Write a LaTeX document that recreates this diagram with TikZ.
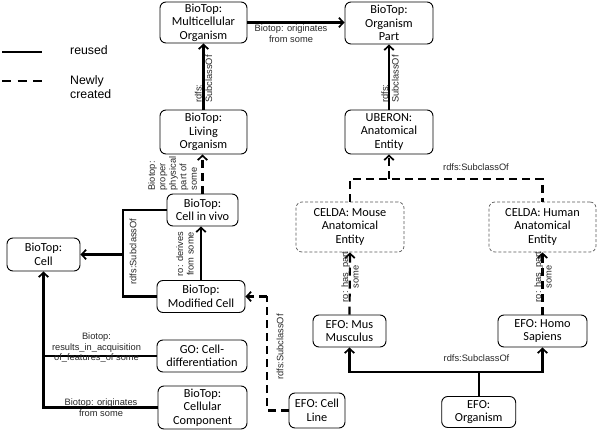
\documentclass[tikz,border=0pt]{standalone}
\usepackage{fontspec}
\setmainfont{Carlito}
\newfontfamily\lblfont{Liberation Sans}
\usetikzlibrary{arrows.meta}
\tikzset{
  box/.style={draw, rounded corners=6pt, line width=0.9pt, align=center, inner sep=0pt,
    font=\fontsize{12.3}{13.5}\selectfont},
  dbox/.style={box, draw=black!65, line width=0.7pt, dash pattern=on 3pt off 2pt},
  rel/.style={line width=2.2pt, -{Straight Barb[length=4.5pt,width=9.5pt,line width=1.7pt]}},
  relnt/.style={line width=2.2pt},
  newrel/.style={rel, dash pattern=on 8pt off 5pt},
  newrelnt/.style={line width=2.2pt, dash pattern=on 8pt off 5pt},
  lbl/.style={font=\lblfont\fontsize{9.3}{10.5}\selectfont, text=black!85, inner sep=0pt, align=center},
  leg/.style={font=\lblfont\fontsize{12.3}{13.5}\selectfont, inner sep=0pt, align=left, anchor=west}
}
\begin{document}
\begin{tikzpicture}[x=1pt,y=-1pt]
\useasboundingbox (0,0) rectangle (600,435);
% nodes
\node[box, minimum width=87pt, minimum height=41pt] (mo) at (203.5,22.5) {BioTop:\\Multicellular\\Organism};
\node[box, minimum width=88pt, minimum height=42pt] (op) at (389,23) {BioTop:\\Organism\\Part};
\node[box, minimum width=87pt, minimum height=44pt] (lo) at (203.5,132) {BioTop:\\Living\\Organism};
\node[box, minimum width=88pt, minimum height=44pt] (ub) at (389,132) {UBERON:\\Anatomical\\Entity};
\node[box, minimum width=71pt, minimum height=32pt] (civ) at (202.5,210) {BioTop:\\Cell in vivo};
\node[box, minimum width=73pt, minimum height=33pt] (cell) at (43.5,254.5) {BioTop:\\Cell};
\node[box, minimum width=88pt, minimum height=32pt] (mc) at (201,296.5) {BioTop:\\Modified Cell};
\node[box, minimum width=90pt, minimum height=32pt] (go) at (202,356) {GO: Cell-\\differentiation};
\node[box, minimum width=89pt, minimum height=43pt] (cc) at (202.5,407.5) {BioTop:\\Cellular\\Component};
\node[box, minimum width=56pt, minimum height=35pt] (cl) at (317,410.5) {EFO: Cell\\Line};
\node[box, minimum width=74pt, minimum height=31pt] (org) at (478.7,412) {EFO:\\Organism};
\node[box, minimum width=73pt, minimum height=32pt] (mus) at (349.5,331) {EFO: Mus\\Musculus};
\node[box, minimum width=89pt, minimum height=32pt] (homo) at (542.5,331) {EFO: Homo\\Sapiens};
\node[dbox, minimum width=108pt, minimum height=50pt] (celm) at (350,227) {CELDA: Mouse\\Anatomical\\Entity};
\node[dbox, minimum width=107pt, minimum height=50pt] (celh) at (542.5,227) {CELDA: Human\\Anatomical\\Entity};
% junction coordinates
\coordinate (j1) at (389,179);
\coordinate (j2) at (478.7,372);
\coordinate (j3) at (123,254.5);
\coordinate (j4) at (43.5,356);
\coordinate (j5) at (267,296.5);
% connectors
\draw[rel] (mo.east) -- (mo.east -| op.west);
\draw[rel] (lo.north) -- (mo.south);
\draw[rel] (ub.north) -- (op.south);
\draw[newrel] (civ.north) -- (civ.north |- lo.south);
\draw[newrelnt] (celm.north) |- (j1) -| (celh.north);
\draw[newrel] (j1) -- (ub.south);
\draw[newrel] (mus.north) -- (celm.south);
\draw[newrel] (homo.north) -- (celh.south);
\draw[relnt] (org.north) -- (j2);
\draw[rel] (j2) -| (mus.south);
\draw[rel] (j2) -| (homo.south);
\draw[relnt] (civ.west) -| (j3);
\draw[relnt] (mc.west) -| (j3);
\draw[rel] (j3) -- (cell.east);
\draw[rel] (mc.north) -- (mc.north |- civ.south);
\draw[relnt] (go.west) -- (j4);
\draw[rel] (cc.west) -| (cell.south);
\draw[newrelnt] (cl.west) -| (j5);
\draw[newrel] (j5) -- (mc.east);
% labels
\node[lbl] (l1) at (291,33.5) {Biotop: originates\\from some};
\node[lbl, rotate=90, align=left] (l2) at (203.5,79) {rdfs:\\SubclassOf};
\node[lbl, rotate=90, align=left] (l3) at (390,79) {rdfs:\\SubclassOf};
\node[lbl, rotate=90, align=left] (l4) at (172.5,173.5) {Biotop:\\proper\\physical\\part of\\some};
\node[lbl] (l5) at (476,167) {rdfs:SubclassOf};
\node[lbl, rotate=90] (l6) at (350,277) {ro: has\_part\\some};
\node[lbl, rotate=90] (l7) at (543,277) {ro: has\_part\\some};
\node[lbl] (l8) at (476.5,358) {rdfs:SubclassOf};
\node[lbl, rotate=90] (l9) at (185,254) {ro: derives\\from some};
\node[lbl, rotate=90] (l10) at (133,251.5) {rdfs:SubclassOf};
\node[lbl, rotate=90] (l11) at (280,347) {rdfs:SubclassOf};
\node[lbl] (l12) at (96.5,348) {Biotop:\\results\_in\_acquisition\\of\_features\_of some};
\node[lbl] (l13) at (101,407.5) {Biotop: originates\\from some};
% legend
\coordinate (la) at (2,52);
\coordinate (lb) at (42,52);
\coordinate (lc) at (2,81);
\coordinate (ld) at (42,81);
\draw[line width=2.2pt] (la) -- (lb);
\draw[line width=2.2pt, dash pattern=on 9pt off 6.5pt] (lc) -- (ld);
\node[leg] (t1) at (70,50) {reused};
\node[leg] (t2) at (70,87) {Newly\\created};
\end{tikzpicture}
\end{document}
